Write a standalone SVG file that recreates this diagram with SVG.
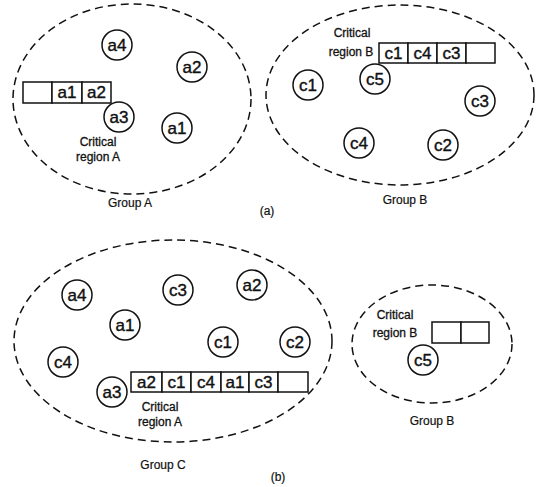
<svg xmlns="http://www.w3.org/2000/svg" width="543" height="487" viewBox="0 0 543 487">
  <style>
    .grp { fill: none; stroke: #111; stroke-width: 1.5; stroke-dasharray: 8 5; }
    .node circle { fill: #fff; stroke: #111; stroke-width: 1.5; }
    .node text { font-family: "Liberation Sans", Arial, sans-serif; font-size: 17px; fill: #111; stroke: #111; stroke-width: 0.4; text-anchor: middle; dominant-baseline: central; }
    .q rect { fill: #fff; stroke: #111; stroke-width: 1.5; }
    .q text { font-family: "Liberation Sans", Arial, sans-serif; font-size: 17px; fill: #111; stroke: #111; stroke-width: 0.4; text-anchor: middle; dominant-baseline: central; }
    .lbl { font-family: "Liberation Sans", Arial, sans-serif; font-size: 12px; fill: #111; stroke: #111; stroke-width: 0.3; text-anchor: middle; }
    .cap { font-family: "Liberation Sans", Arial, sans-serif; font-size: 12px; fill: #111; stroke: #111; stroke-width: 0.2; text-anchor: middle; }
  </style>

  <!-- (a) Group A -->
  <g id="groupA">
    <ellipse class="grp" cx="132" cy="99" rx="119" ry="95"/>
    <text class="cap" x="130" y="207">Group A</text>
    <g class="q" id="queueA">
      <rect x="23" y="82" width="29" height="21"/>
      <rect x="52" y="82" width="30" height="21"/>
      <rect x="82" y="82" width="29" height="21"/>
      <text x="67" y="92.5">a1</text>
      <text x="96.5" y="92.5">a2</text>
    </g>
    <text class="lbl" x="98" y="146">Critical</text>
    <text class="lbl" x="98" y="161">region A</text>
  </g>
  <g id="a-a4" class="node"><circle cx="117" cy="45" r="15"/><text x="117" y="45">a4</text></g>
  <g id="a-a2" class="node"><circle cx="192" cy="67" r="15"/><text x="192" y="67">a2</text></g>
  <g id="a-a3" class="node"><circle cx="119" cy="117" r="15"/><text x="119" y="117">a3</text></g>
  <g id="a-a1" class="node"><circle cx="177" cy="128" r="15"/><text x="177" y="128">a1</text></g>

  <!-- (a) Group B -->
  <g id="groupB">
    <ellipse class="grp" cx="400" cy="95" rx="134" ry="90"/>
    <text class="cap" x="405" y="204">Group B</text>
    <text class="lbl" x="352" y="37">Critical</text>
    <text class="lbl" x="351" y="56">region B</text>
    <g class="q" id="queueB">
      <rect x="379" y="43" width="29" height="20"/>
      <rect x="408" y="43" width="29" height="20"/>
      <rect x="437" y="43" width="29" height="20"/>
      <rect x="466" y="43" width="29" height="20"/>
      <text x="393.5" y="53">c1</text>
      <text x="422.5" y="53">c4</text>
      <text x="451.5" y="53">c3</text>
    </g>
  </g>
  <g id="b-c1" class="node"><circle cx="308" cy="85" r="15"/><text x="308" y="85">c1</text></g>
  <g id="b-c5" class="node"><circle cx="375" cy="79" r="15"/><text x="375" y="79">c5</text></g>
  <g id="b-c3" class="node"><circle cx="480" cy="101" r="15"/><text x="480" y="101">c3</text></g>
  <g id="b-c4" class="node"><circle cx="359" cy="143" r="15"/><text x="359" y="143">c4</text></g>
  <g id="b-c2" class="node"><circle cx="443" cy="145" r="15"/><text x="443" y="145">c2</text></g>

  <text class="cap" x="267" y="215">(a)</text>

  <!-- (b) Group C -->
  <g id="groupC">
    <ellipse class="grp" cx="173" cy="341" rx="159" ry="101"/>
    <text class="cap" x="163" y="469">Group C</text>
    <g class="q" id="queueC">
      <rect x="131" y="372" width="31" height="20"/>
      <rect x="162" y="372" width="29" height="20"/>
      <rect x="191" y="372" width="30" height="20"/>
      <rect x="221" y="372" width="28" height="20"/>
      <rect x="249" y="372" width="29" height="20"/>
      <rect x="278" y="372" width="30" height="20"/>
      <text x="146.5" y="382">a2</text>
      <text x="176.5" y="382">c1</text>
      <text x="206" y="382">c4</text>
      <text x="235" y="382">a1</text>
      <text x="263.5" y="382">c3</text>
    </g>
    <text class="lbl" x="160" y="411">Critical</text>
    <text class="lbl" x="160" y="426">region A</text>
  </g>
  <g id="c-a4" class="node"><circle cx="77" cy="295" r="15"/><text x="77" y="295">a4</text></g>
  <g id="c-c3" class="node"><circle cx="178" cy="290" r="15"/><text x="178" y="290">c3</text></g>
  <g id="c-a2" class="node"><circle cx="252" cy="285" r="15"/><text x="252" y="285">a2</text></g>
  <g id="c-a1" class="node"><circle cx="125" cy="325" r="15"/><text x="125" y="325">a1</text></g>
  <g id="c-c1" class="node"><circle cx="223" cy="342" r="15"/><text x="223" y="342">c1</text></g>
  <g id="c-c2" class="node"><circle cx="295" cy="342" r="15"/><text x="295" y="342">c2</text></g>
  <g id="c-c4" class="node"><circle cx="63" cy="362" r="15"/><text x="63" y="362">c4</text></g>
  <g id="c-a3" class="node"><circle cx="112" cy="392" r="15"/><text x="112" y="392">a3</text></g>

  <!-- (b) Group B -->
  <g id="groupB2">
    <ellipse class="grp" cx="432" cy="344" rx="80" ry="59"/>
    <text class="cap" x="432" y="425">Group B</text>
    <text class="lbl" x="395" y="319">Critical</text>
    <text class="lbl" x="395" y="337">region B</text>
    <g class="q" id="queueB2">
      <rect x="432" y="322" width="29" height="21"/>
      <rect x="461" y="322" width="28" height="21"/>
    </g>
  </g>
  <g id="d-c5" class="node"><circle cx="423" cy="360" r="15"/><text x="423" y="360">c5</text></g>

  <text class="cap" x="278" y="481">(b)</text>

  <!-- no connectors in this figure -->
  <g id="connectors"/>
</svg>
